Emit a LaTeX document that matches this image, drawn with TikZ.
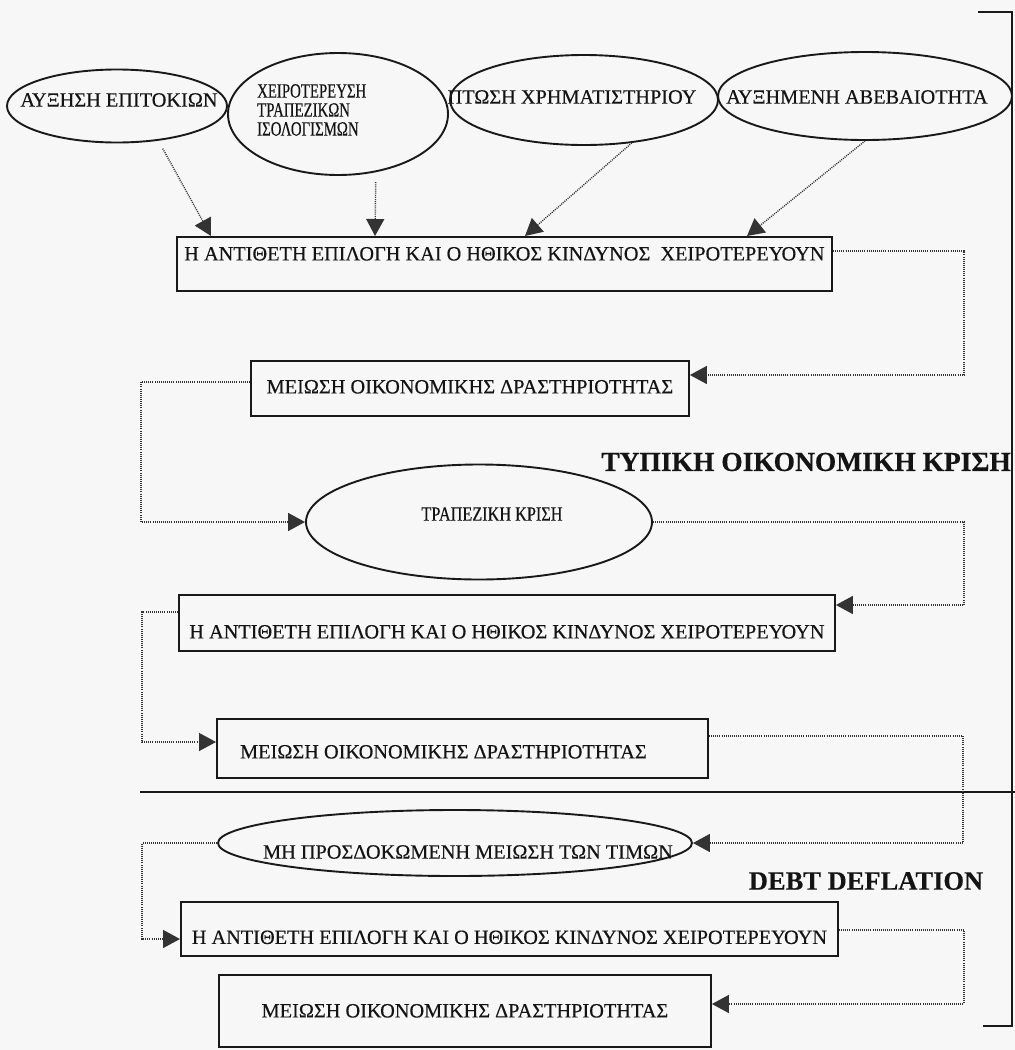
\documentclass[tikz,border=0pt]{standalone}
\usepackage{fontspec}
\setmainfont{Liberation Serif}[FakeBold=0.35]
\newfontfamily\narrowfont[FakeStretch=0.73,FakeBold=0.35]{Liberation Serif}
\newfontfamily\midfont[FakeStretch=0.8,FakeBold=0.35]{Liberation Serif}
\usetikzlibrary{shapes.geometric,arrows.meta,calc}
\begin{document}
\begin{tikzpicture}[x=1pt,y=-1pt,
  every node/.style={font=\fontsize{20.3}{22}\selectfont, text=black!92},
  bx/.style={draw=black!90, line width=1.9pt, rectangle, inner sep=0pt, anchor=north west},
  ell/.style={draw=black!90, line width=1.9pt, ellipse, inner sep=0pt},
  txt/.style={inner sep=0pt},
  ntxt/.style={inner sep=0pt, font=\narrowfont\fontsize{20.3}{19}\selectfont, align=left},
  mtxt/.style={inner sep=0pt, font=\midfont\fontsize{20.3}{22}\selectfont},
  ttl/.style={inner sep=0pt, font=\bfseries\fontsize{27.5}{29}\selectfont},
  conn/.style={draw=black!80, line width=1.4pt, dash pattern=on 1pt off 1.1pt,
    -{Triangle[length=17pt,width=18pt]}},
  frame/.style={draw=black!90, line width=1.9pt}]
\fill[black!3] (0,0) rectangle (1015,1050);
\useasboundingbox (0,0) rectangle (1015,1050);

% top ellipses
\node[ell, minimum width=220pt, minimum height=73pt] (e1) at (117,106) {};
\node[txt] (e1t) at (119,100) {ΑΥΞΗΣΗ ΕΠΙΤΟΚΙΩΝ};
\node[ell, minimum width=220pt, minimum height=122pt] (e2) at (338,114) {};
\node[ntxt, anchor=west] (e2t) at (257,110) {ΧΕΙΡΟΤΕΡΕΥΣΗ\\ΤΡΑΠΕΖΙΚΩΝ\\ΙΣΟΛΟΓΙΣΜΩΝ};
\node[ell, minimum width=268pt, minimum height=90pt] (e3) at (584,100) {};
\node[txt] (e3t) at (572,97) {ΠΤΩΣΗ ΧΡΗΜΑΤΙΣΤΗΡΙΟΥ};
\node[ell, minimum width=294pt, minimum height=88pt] (e4) at (865,96) {};
\node[txt] (e4t) at (857,97) {ΑΥΞΗΜΕΝΗ ΑΒΕΒΑΙΟΤΗΤΑ};

% boxes
\node[bx, minimum width=655pt, text height=23.5pt, text depth=30.5pt] (b1) at (176,236)
  {Η ΑΝΤΙΘΕΤΗ ΕΠΙΛΟΓΗ ΚΑΙ Ο ΗΘΙΚΟΣ ΚΙΝΔΥΝΟΣ\ \ ΧΕΙΡΟΤΕΡΕΥΟΥΝ};
\node[bx, minimum width=438pt, text height=32.5pt, text depth=22.5pt] (b2) at (250,360)
  {ΜΕΙΩΣΗ ΟΙΚΟΝΟΜΙΚΗΣ ΔΡΑΣΤΗΡΙΟΤΗΤΑΣ};
\node[ell, minimum width=346pt, minimum height=115pt] (eT) at (479,522) {};
\node[mtxt] (eTt) at (492,514) {ΤΡΑΠΕΖΙΚΗ ΚΡΙΣΗ};
\node[ttl, anchor=east] (t1) at (1011,462) {ΤΥΠΙΚΗ ΟΙΚΟΝΟΜΙΚΗ ΚΡΙΣΗ};
\node[bx, minimum width=656pt, text height=43.5pt, text depth=12.5pt] (b3) at (178,594)
  {Η ΑΝΤΙΘΕΤΗ ΕΠΙΛΟΓΗ ΚΑΙ Ο ΗΘΙΚΟΣ ΚΙΝΔΥΝΟΣ ΧΕΙΡΟΤΕΡΕΥΟΥΝ};
\node[bx, minimum width=491pt, text height=39.5pt, text depth=19.5pt] (b4) at (216,718)
  {ΜΕΙΩΣΗ ΟΙΚΟΝΟΜΙΚΗΣ ΔΡΑΣΤΗΡΙΟΤΗΤΑΣ\hspace*{38pt}};
\node[ell, minimum width=474pt, minimum height=66pt] (eM) at (455,843) {};
\node[txt] (eMt) at (468,852) {ΜΗ ΠΡΟΣΔΟΚΩΜΕΝΗ ΜΕΙΩΣΗ ΤΩΝ ΤΙΜΩΝ};
\node[ttl, font=\bfseries\fontsize{26.5}{28}\selectfont] (t2) at (866,881) {DEBT DEFLATION};
\node[bx, minimum width=657pt, text height=42pt, text depth=12pt] (b5) at (180,901)
  {Η ΑΝΤΙΘΕΤΗ ΕΠΙΛΟΓΗ ΚΑΙ Ο ΗΘΙΚΟΣ ΚΙΝΔΥΝΟΣ ΧΕΙΡΟΤΕΡΕΥΟΥΝ};
\node[bx, minimum width=492pt, text height=42.5pt, text depth=29.5pt] (b6) at (218,974)
  {ΜΕΙΩΣΗ ΟΙΚΟΝΟΜΙΚΗΣ ΔΡΑΣΤΗΡΙΟΤΗΤΑΣ};

% bracket and separator
\coordinate (brT) at (978,12);
\coordinate (brB) at (983,1026);
\draw[frame] (brT) -- (1012,12) -- (1012,1026) -- (brB);
\coordinate (sepL) at (140,792);
\coordinate (sepR) at (1015,792);
\draw[frame] (sepL) -- (sepR);

% arrows from the top ellipses
\draw[conn, shorten <=9pt] (e1.-40) -- ($(b1.north west)+(35,0)$);
\draw[conn, shorten <=10pt] (e2.-57) -- ($(b1.north west)+(199,0)$);
\draw[conn] (e3.-42) -- ($(b1.north west)+(349,0)$);
\draw[conn] (e4.south) -- ($(b1.north west)+(571,0)$);

% loop connectors
\draw[conn] ($(b1.north east)+(0,15)$) -| ($(b2.north east)+(274,15)$) -- ($(b2.north east)+(0,15)$);
\draw[conn] ($(b2.north west)+(0,22)$) -| ($(eT.west)+(-164,0)$) -- (eT.west);
\draw[conn] (eT.east) -| ($(b3.north east)+(128,11)$) -- ($(b3.north east)+(0,11)$);
\draw[conn] ($(b3.north west)+(0,18)$) -| ($(b4.north west)+(-74,24)$) -- ($(b4.north west)+(0,24)$);
\draw[conn] ($(b4.north east)+(0,18)$) -| ($(eM.east)+(270,0)$) -- (eM.east);
\draw[conn] (eM.west) -| ($(b5.north west)+(-38,38)$) -- ($(b5.north west)+(0,38)$);
\draw[conn] ($(b5.north east)+(0,29)$) -| ($(b6.north east)+(252,30)$) -- ($(b6.north east)+(0,30)$);
\end{tikzpicture}
\end{document}
